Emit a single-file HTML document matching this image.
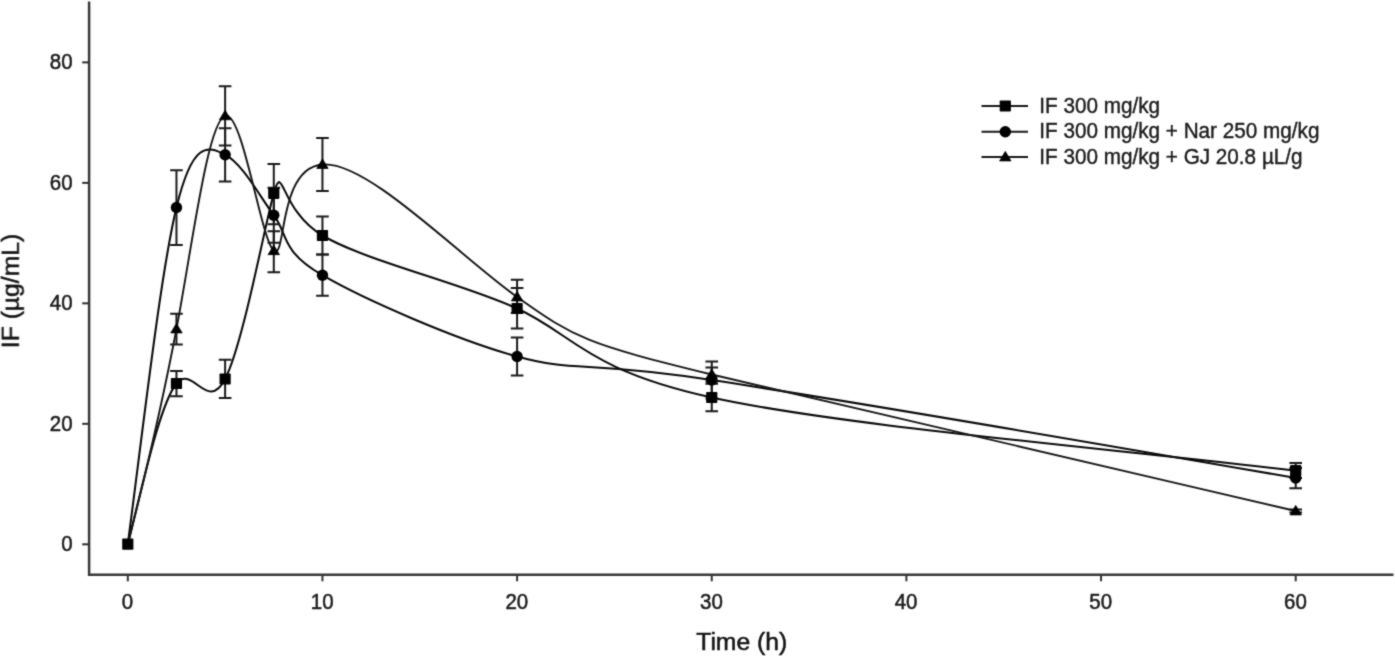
<!DOCTYPE html>
<html><head><meta charset="utf-8"><style>
html,body{margin:0;padding:0;background:#fff;}
body{width:1395px;height:656px;overflow:hidden;}
svg{display:block;}
.wrap{width:1395px;height:656px;will-change:transform;}
text{font-family:"Liberation Sans",sans-serif;fill:#1c1c1c;}
.tk{font-size:20.5px;stroke:#1c1c1c;stroke-width:0.5px;}
.ttl{font-size:24.7px;fill:#141414;stroke:#141414;stroke-width:0.55px;}
.lg{font-size:20.7px;stroke:#1c1c1c;stroke-width:0.4px;}
</style></head><body><div class="wrap">
<svg width="1395" height="656" viewBox="0 0 1395 656">
<defs><filter id="bl" x="0" y="0" width="1" height="1" color-interpolation-filters="sRGB"><feConvolveMatrix order="3" kernelMatrix="0.035 0.085 0.035 0.085 0.52 0.085 0.035 0.085 0.035" edgeMode="duplicate"/></filter></defs>
<g filter="url(#bl)"><rect width="1395" height="656" fill="#fff"/>
<path d="M89.1,1.5 V574.8 H1393.5" fill="none" stroke="#383838" stroke-width="2.5" stroke-linejoin="miter"/>
<line x1="82.2" y1="544.30" x2="89" y2="544.30" stroke="#2e2e2e" stroke-width="2"/>
<text transform="translate(72.6,551.10) scale(1,1.11)" text-anchor="end" class="tk">0</text>
<line x1="82.2" y1="423.82" x2="89" y2="423.82" stroke="#2e2e2e" stroke-width="2"/>
<text transform="translate(72.6,430.62) scale(1,1.11)" text-anchor="end" class="tk">20</text>
<line x1="82.2" y1="303.34" x2="89" y2="303.34" stroke="#2e2e2e" stroke-width="2"/>
<text transform="translate(72.6,310.14) scale(1,1.11)" text-anchor="end" class="tk">40</text>
<line x1="82.2" y1="182.86" x2="89" y2="182.86" stroke="#2e2e2e" stroke-width="2"/>
<text transform="translate(72.6,189.66) scale(1,1.11)" text-anchor="end" class="tk">60</text>
<line x1="82.2" y1="62.38" x2="89" y2="62.38" stroke="#2e2e2e" stroke-width="2"/>
<text transform="translate(72.6,69.18) scale(1,1.11)" text-anchor="end" class="tk">80</text>
<line x1="127.80" y1="575" x2="127.80" y2="581.3" stroke="#333" stroke-width="2"/>
<text transform="translate(127.50,609) scale(1,1.11)" text-anchor="middle" class="tk">0</text>
<line x1="322.45" y1="575" x2="322.45" y2="581.3" stroke="#333" stroke-width="2"/>
<text transform="translate(322.15,609) scale(1,1.11)" text-anchor="middle" class="tk">10</text>
<line x1="517.10" y1="575" x2="517.10" y2="581.3" stroke="#333" stroke-width="2"/>
<text transform="translate(516.80,609) scale(1,1.11)" text-anchor="middle" class="tk">20</text>
<line x1="711.75" y1="575" x2="711.75" y2="581.3" stroke="#333" stroke-width="2"/>
<text transform="translate(711.45,609) scale(1,1.11)" text-anchor="middle" class="tk">30</text>
<line x1="906.40" y1="575" x2="906.40" y2="581.3" stroke="#333" stroke-width="2"/>
<text transform="translate(906.10,609) scale(1,1.11)" text-anchor="middle" class="tk">40</text>
<line x1="1101.05" y1="575" x2="1101.05" y2="581.3" stroke="#333" stroke-width="2"/>
<text transform="translate(1100.75,609) scale(1,1.11)" text-anchor="middle" class="tk">50</text>
<line x1="1295.70" y1="575" x2="1295.70" y2="581.3" stroke="#333" stroke-width="2"/>
<text transform="translate(1295.40,609) scale(1,1.11)" text-anchor="middle" class="tk">60</text>
<text transform="translate(741.7,650) scale(1,1.0)" text-anchor="middle" class="ttl">Time (h)</text>
<text transform="translate(18.8,291) rotate(-90) scale(1,1.0)" text-anchor="middle" class="ttl">IF (µg/mL)</text>
<path d="M127.80,544.20 C144.21,477.82 160.59,403.14 176.46,383.50 C192.33,363.86 207.40,413.33 225.12,379.00 C242.85,344.67 264.40,226.93 273.79,193.30 C283.17,159.67 279.65,210.11 322.45,235.50 C365.25,260.89 460.65,282.75 517.10,308.50 C573.55,334.25 585.38,369.66 711.75,397.50 C838.12,425.34 1092.48,446.80 1295.70,470.70" fill="none" stroke="#0a0a0a" stroke-width="2.05"/>
<path d="M127.80,544.20 C144.18,419.55 160.57,273.63 176.46,207.50 C192.35,141.37 207.56,145.36 225.12,154.70 C242.69,164.04 258.95,195.11 273.79,215.20 C288.63,235.29 280.21,250.53 322.45,275.20 C364.69,299.87 457.68,340.14 517.10,356.50 C576.52,372.86 582.77,360.23 711.75,380.00 C840.73,399.77 1081.05,440.74 1295.70,478.00" fill="none" stroke="#0a0a0a" stroke-width="2.05"/>
<path d="M127.80,544.20 C144.23,479.65 160.60,412.56 176.46,329.00 C192.33,245.44 207.77,121.65 225.12,115.85 C242.48,110.05 261.10,240.42 273.79,250.75 C286.48,261.08 277.41,168.16 322.45,164.50 C367.49,160.84 458.16,255.06 517.10,297.00 C576.04,338.94 586.42,343.74 711.75,374.50 C837.08,405.26 1077.13,459.79 1295.70,511.00" fill="none" stroke="#161616" stroke-width="1.9"/>
<path d="M176.46,371.00 V396.20 M170.16,371.00 H182.76 M170.16,396.20 H182.76" fill="none" stroke="#1a1a1a" stroke-width="2"/>
<path d="M225.12,359.70 V397.90 M218.82,359.70 H231.43 M218.82,397.90 H231.43" fill="none" stroke="#1a1a1a" stroke-width="2"/>
<path d="M273.79,164.10 V224.30 M267.49,164.10 H280.09 M267.49,224.30 H280.09" fill="none" stroke="#1a1a1a" stroke-width="2"/>
<path d="M322.45,216.50 V254.60 M316.15,216.50 H328.75 M316.15,254.60 H328.75" fill="none" stroke="#1a1a1a" stroke-width="2"/>
<path d="M517.10,288.10 V328.50 M510.80,288.10 H523.40 M510.80,328.50 H523.40" fill="none" stroke="#1a1a1a" stroke-width="2"/>
<path d="M711.75,383.70 V411.30 M705.45,383.70 H718.05 M705.45,411.30 H718.05" fill="none" stroke="#1a1a1a" stroke-width="2"/>
<path d="M1295.70,462.90 V478.00 M1289.40,462.90 H1302.00 M1289.40,478.00 H1302.00" fill="none" stroke="#1a1a1a" stroke-width="2"/>
<path d="M176.46,170.30 V244.90 M170.16,170.30 H182.76 M170.16,244.90 H182.76" fill="none" stroke="#1a1a1a" stroke-width="2"/>
<path d="M225.12,128.20 V181.60 M218.82,128.20 H231.43 M218.82,181.60 H231.43" fill="none" stroke="#1a1a1a" stroke-width="2"/>
<path d="M273.79,187.70 V242.70 M267.49,187.70 H280.09 M267.49,242.70 H280.09" fill="none" stroke="#1a1a1a" stroke-width="2"/>
<path d="M322.45,254.60 V295.80 M316.15,254.60 H328.75 M316.15,295.80 H328.75" fill="none" stroke="#1a1a1a" stroke-width="2"/>
<path d="M517.10,337.60 V375.40 M510.80,337.60 H523.40 M510.80,375.40 H523.40" fill="none" stroke="#1a1a1a" stroke-width="2"/>
<path d="M711.75,361.60 V398.40 M705.45,361.60 H718.05 M705.45,398.40 H718.05" fill="none" stroke="#1a1a1a" stroke-width="2"/>
<path d="M1295.70,468.00 V488.20 M1289.40,468.00 H1302.00 M1289.40,488.20 H1302.00" fill="none" stroke="#1a1a1a" stroke-width="2"/>
<path d="M176.46,313.70 V344.60 M170.16,313.70 H182.76 M170.16,344.60 H182.76" fill="none" stroke="#1a1a1a" stroke-width="2"/>
<path d="M225.12,86.20 V145.50 M218.82,86.20 H231.43 M218.82,145.50 H231.43" fill="none" stroke="#1a1a1a" stroke-width="2"/>
<path d="M273.79,231.20 V272.20 M267.49,231.20 H280.09 M267.49,272.20 H280.09" fill="none" stroke="#1a1a1a" stroke-width="2"/>
<path d="M322.45,138.00 V191.00 M316.15,138.00 H328.75 M316.15,191.00 H328.75" fill="none" stroke="#1a1a1a" stroke-width="2"/>
<path d="M517.10,279.80 V313.00 M510.80,279.80 H523.40 M510.80,313.00 H523.40" fill="none" stroke="#1a1a1a" stroke-width="2"/>
<path d="M711.75,367.50 V381.50 M705.45,367.50 H718.05 M705.45,381.50 H718.05" fill="none" stroke="#1a1a1a" stroke-width="2"/>
<path d="M1295.70,509.40 V512.50 M1289.40,509.40 H1302.00 M1289.40,512.50 H1302.00" fill="none" stroke="#1a1a1a" stroke-width="2"/>
<path d="M176.46,323.40 L182.16,332.90 L170.76,332.90 Z" stroke="#000" stroke-width="0.8" stroke-linejoin="round"/>
<path d="M225.12,110.25 L230.82,119.75 L219.43,119.75 Z" stroke="#000" stroke-width="0.8" stroke-linejoin="round"/>
<path d="M273.79,245.15 L279.49,254.65 L268.09,254.65 Z" stroke="#000" stroke-width="0.8" stroke-linejoin="round"/>
<path d="M322.45,158.90 L328.15,168.40 L316.75,168.40 Z" stroke="#000" stroke-width="0.8" stroke-linejoin="round"/>
<path d="M517.10,291.40 L522.80,300.90 L511.40,300.90 Z" stroke="#000" stroke-width="0.8" stroke-linejoin="round"/>
<path d="M711.75,368.90 L717.45,378.40 L706.05,378.40 Z" stroke="#000" stroke-width="0.8" stroke-linejoin="round"/>
<path d="M1295.70,505.40 L1301.40,514.90 L1290.00,514.90 Z" stroke="#000" stroke-width="0.8" stroke-linejoin="round"/>
<circle cx="176.46" cy="207.50" r="5.70"/>
<circle cx="225.12" cy="154.70" r="5.70"/>
<circle cx="273.79" cy="215.20" r="5.70"/>
<circle cx="322.45" cy="275.20" r="5.70"/>
<circle cx="517.10" cy="356.50" r="5.70"/>
<circle cx="711.75" cy="380.00" r="5.70"/>
<circle cx="1295.70" cy="478.00" r="5.70"/>
<rect x="122.20" y="538.60" width="11.20" height="11.20" rx="0.8"/>
<rect x="170.86" y="377.90" width="11.20" height="11.20" rx="0.8"/>
<rect x="219.53" y="373.40" width="11.20" height="11.20" rx="0.8"/>
<rect x="268.19" y="187.70" width="11.20" height="11.20" rx="0.8"/>
<rect x="316.85" y="229.90" width="11.20" height="11.20" rx="0.8"/>
<rect x="511.50" y="302.90" width="11.20" height="11.20" rx="0.8"/>
<rect x="706.15" y="391.90" width="11.20" height="11.20" rx="0.8"/>
<rect x="1290.10" y="465.10" width="11.20" height="11.20" rx="0.8"/>
<line x1="981.5" y1="106" x2="1028" y2="106" stroke="#1a1a1a" stroke-width="2"/>
<rect x="999.70" y="100.40" width="11.20" height="11.20" rx="0.8"/>
<text transform="translate(1039.3,112.70) scale(1,1.05)" class="lg">IF 300 mg/kg</text>
<line x1="981.5" y1="131.7" x2="1028" y2="131.7" stroke="#1a1a1a" stroke-width="2"/>
<circle cx="1005.30" cy="131.70" r="5.70"/>
<text transform="translate(1039.3,138.40) scale(1,1.05)" class="lg">IF 300 mg/kg + Nar 250 mg/kg</text>
<line x1="981.5" y1="157" x2="1028" y2="157" stroke="#1a1a1a" stroke-width="2"/>
<path d="M1005.30,151.40 L1011.00,160.90 L999.60,160.90 Z" stroke="#000" stroke-width="0.8" stroke-linejoin="round"/>
<text transform="translate(1039.3,163.70) scale(1,1.05)" class="lg">IF 300 mg/kg + GJ 20.8 µL/g</text>
</g></svg></div>
</body></html>
